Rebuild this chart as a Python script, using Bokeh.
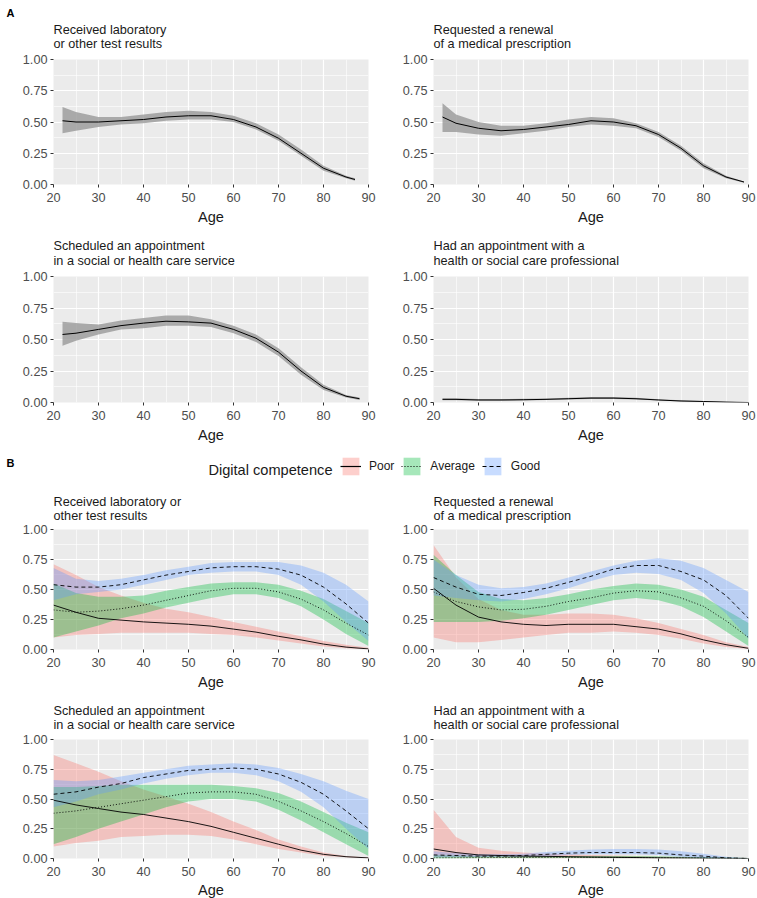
from bokeh.plotting import figure
from bokeh.layouts import column, row
from bokeh.models import Range1d, FixedTicker, NumeralTickFormatter, Label, Legend, LegendItem
from bokeh.embed import file_html
from bokeh.resources import INLINE

FONT = "Liberation Sans"

# ---------------- data ----------------
age_ticks = [20, 30, 40, 50, 60, 70, 80, 90]
age_minor = [25, 35, 45, 55, 65, 75, 85]
share_ticks = [0.0, 0.25, 0.5, 0.75, 1.0]
share_minor = [0.125, 0.375, 0.625, 0.875]
x_title = "Age"

titles = [
    ["Received laboratory", "or other test results"],
    ["Requested a renewal", "of a medical prescription"],
    ["Scheduled an appointment", "in a social or health care service"],
    ["Had an appointment with a", "health or social care professional"],
]
titles_b = [
    ["Received laboratory or", "other test results"],
    ["Requested a renewal", "of a medical prescription"],
    ["Scheduled an appointment", "in a social or health care service"],
    ["Had an appointment with a", "health or social care professional"],
]
groups = ["Poor", "Average", "Good"]
legend_title = "Digital competence"

# Panel A: whole sample
a1_age = [22, 25, 30, 35, 40, 45, 50, 55, 60, 65, 70, 75, 80, 85, 87]
a1_fit = [0.51, 0.50, 0.50, 0.51, 0.52, 0.54, 0.55, 0.55, 0.52, 0.46, 0.37, 0.25, 0.13, 0.06, 0.04]
a1_lo = [0.41, 0.43, 0.46, 0.48, 0.49, 0.51, 0.52, 0.52, 0.50, 0.44, 0.35, 0.23, 0.11, 0.05, 0.03]
a1_hi = [0.62, 0.58, 0.54, 0.54, 0.56, 0.58, 0.59, 0.58, 0.55, 0.49, 0.40, 0.28, 0.15, 0.07, 0.05]

a2_age = [22, 25, 30, 35, 40, 45, 50, 55, 60, 65, 70, 75, 80, 85, 89]
a2_fit = [0.54, 0.49, 0.45, 0.43, 0.44, 0.46, 0.48, 0.51, 0.50, 0.47, 0.40, 0.29, 0.15, 0.06, 0.02]
a2_lo = [0.42, 0.42, 0.40, 0.39, 0.41, 0.43, 0.46, 0.48, 0.47, 0.45, 0.38, 0.27, 0.13, 0.05, 0.015]
a2_hi = [0.65, 0.56, 0.50, 0.47, 0.47, 0.49, 0.52, 0.54, 0.53, 0.49, 0.42, 0.31, 0.17, 0.07, 0.025]

a3_age = [22, 25, 30, 35, 40, 45, 50, 55, 60, 65, 70, 75, 80, 85, 88]
a3_fit = [0.54, 0.55, 0.58, 0.61, 0.63, 0.645, 0.64, 0.63, 0.58, 0.51, 0.40, 0.25, 0.12, 0.05, 0.03]
a3_lo = [0.45, 0.49, 0.54, 0.58, 0.59, 0.61, 0.61, 0.60, 0.55, 0.48, 0.37, 0.22, 0.10, 0.04, 0.02]
a3_hi = [0.64, 0.63, 0.62, 0.65, 0.67, 0.69, 0.69, 0.66, 0.61, 0.54, 0.43, 0.28, 0.14, 0.06, 0.04]

a4_age = [22, 25, 30, 35, 40, 45, 50, 55, 60, 65, 70, 75, 80, 85, 90]
a4_fit = [0.025, 0.025, 0.02, 0.02, 0.022, 0.025, 0.03, 0.035, 0.035, 0.03, 0.02, 0.012, 0.008, 0.003, 0.0]
a4_lo = [0.018, 0.018, 0.014, 0.014, 0.016, 0.019, 0.023, 0.028, 0.028, 0.024, 0.015, 0.008, 0.005, 0.001, 0.0]
a4_hi = [0.033, 0.033, 0.027, 0.027, 0.029, 0.032, 0.038, 0.043, 0.043, 0.037, 0.026, 0.017, 0.011, 0.005, 0.001]

# Panel B: by digital competence
b_age = [20, 25, 30, 35, 40, 45, 50, 55, 60, 65, 70, 75, 80, 85, 90]

b1_poor_fit = [0.37, 0.31, 0.26, 0.245, 0.23, 0.22, 0.21, 0.195, 0.17, 0.145, 0.11, 0.08, 0.045, 0.02, 0.005]
b1_poor_lo = [0.10, 0.12, 0.13, 0.14, 0.14, 0.14, 0.14, 0.13, 0.12, 0.10, 0.075, 0.05, 0.025, 0.01, 0.0]
b1_poor_hi = [0.71, 0.62, 0.52, 0.45, 0.39, 0.34, 0.31, 0.27, 0.23, 0.19, 0.15, 0.11, 0.07, 0.04, 0.015]
b1_avg_fit = [0.33, 0.31, 0.32, 0.34, 0.37, 0.41, 0.45, 0.49, 0.51, 0.51, 0.48, 0.42, 0.33, 0.22, 0.12]
b1_avg_lo = [0.10, 0.15, 0.20, 0.26, 0.30, 0.35, 0.39, 0.43, 0.46, 0.46, 0.43, 0.36, 0.25, 0.13, 0.03]
b1_avg_hi = [0.55, 0.47, 0.44, 0.44, 0.45, 0.49, 0.52, 0.55, 0.56, 0.56, 0.54, 0.49, 0.42, 0.32, 0.22]
b1_good_fit = [0.54, 0.52, 0.52, 0.54, 0.58, 0.62, 0.65, 0.68, 0.69, 0.69, 0.67, 0.62, 0.52, 0.38, 0.22]
b1_good_lo = [0.41, 0.46, 0.48, 0.50, 0.54, 0.58, 0.62, 0.64, 0.65, 0.65, 0.62, 0.54, 0.40, 0.23, 0.07]
b1_good_hi = [0.68, 0.59, 0.57, 0.59, 0.62, 0.66, 0.69, 0.72, 0.73, 0.73, 0.73, 0.70, 0.64, 0.54, 0.40]

b2_poor_fit = [0.51, 0.37, 0.27, 0.23, 0.21, 0.20, 0.21, 0.21, 0.21, 0.19, 0.17, 0.13, 0.08, 0.04, 0.01]
b2_poor_lo = [0.10, 0.06, 0.06, 0.08, 0.10, 0.12, 0.14, 0.14, 0.15, 0.14, 0.12, 0.09, 0.05, 0.02, 0.005]
b2_poor_hi = [0.87, 0.60, 0.42, 0.33, 0.29, 0.29, 0.30, 0.30, 0.29, 0.26, 0.22, 0.17, 0.12, 0.06, 0.02]
b2_avg_fit = [0.48, 0.40, 0.355, 0.33, 0.335, 0.36, 0.40, 0.43, 0.47, 0.49, 0.48, 0.43, 0.36, 0.24, 0.10]
b2_avg_lo = [0.23, 0.23, 0.23, 0.24, 0.26, 0.29, 0.33, 0.37, 0.41, 0.43, 0.41, 0.36, 0.27, 0.15, 0.03]
b2_avg_hi = [0.79, 0.62, 0.48, 0.42, 0.41, 0.43, 0.46, 0.50, 0.53, 0.55, 0.54, 0.50, 0.44, 0.33, 0.22]
b2_good_fit = [0.60, 0.52, 0.46, 0.45, 0.475, 0.51, 0.56, 0.61, 0.67, 0.70, 0.70, 0.65, 0.58, 0.45, 0.26]
b2_good_lo = [0.45, 0.43, 0.41, 0.40, 0.42, 0.46, 0.51, 0.57, 0.62, 0.64, 0.63, 0.58, 0.47, 0.30, 0.09]
b2_good_hi = [0.75, 0.62, 0.54, 0.51, 0.52, 0.55, 0.60, 0.65, 0.70, 0.74, 0.76, 0.74, 0.68, 0.58, 0.48]

b3_poor_fit = [0.49, 0.45, 0.42, 0.39, 0.37, 0.34, 0.31, 0.27, 0.22, 0.17, 0.12, 0.07, 0.035, 0.015, 0.005]
b3_poor_lo = [0.10, 0.13, 0.15, 0.18, 0.19, 0.20, 0.20, 0.19, 0.16, 0.12, 0.08, 0.05, 0.02, 0.01, 0.002]
b3_poor_hi = [0.87, 0.80, 0.73, 0.65, 0.58, 0.52, 0.46, 0.39, 0.31, 0.24, 0.16, 0.10, 0.05, 0.02, 0.008]
b3_avg_fit = [0.38, 0.40, 0.43, 0.46, 0.49, 0.52, 0.55, 0.56, 0.56, 0.54, 0.48, 0.40, 0.31, 0.21, 0.10]
b3_avg_lo = [0.12, 0.18, 0.25, 0.31, 0.37, 0.43, 0.48, 0.50, 0.50, 0.48, 0.41, 0.32, 0.22, 0.12, 0.02]
b3_avg_hi = [0.60, 0.60, 0.61, 0.62, 0.62, 0.62, 0.62, 0.62, 0.61, 0.59, 0.55, 0.48, 0.39, 0.30, 0.22]
b3_good_fit = [0.54, 0.56, 0.60, 0.63, 0.68, 0.71, 0.74, 0.75, 0.76, 0.75, 0.71, 0.64, 0.54, 0.40, 0.25]
b3_good_lo = [0.43, 0.48, 0.54, 0.58, 0.63, 0.67, 0.70, 0.72, 0.72, 0.70, 0.65, 0.56, 0.43, 0.25, 0.08]
b3_good_hi = [0.66, 0.65, 0.66, 0.69, 0.72, 0.75, 0.78, 0.79, 0.80, 0.79, 0.76, 0.71, 0.65, 0.57, 0.50]

b4_poor_fit = [0.08, 0.05, 0.03, 0.025, 0.02, 0.018, 0.015, 0.012, 0.01, 0.008, 0.005, 0.004, 0.003, 0.001, 0.0]
b4_poor_lo = [0.01, 0.008, 0.006, 0.005, 0.004, 0.003, 0.003, 0.002, 0.002, 0.001, 0.001, 0.0, 0.0, 0.0, 0.0]
b4_poor_hi = [0.41, 0.18, 0.09, 0.065, 0.05, 0.04, 0.035, 0.03, 0.025, 0.02, 0.015, 0.01, 0.005, 0.002, 0.0]
b4_avg_fit = [0.005, 0.006, 0.007, 0.008, 0.009, 0.01, 0.01, 0.01, 0.009, 0.008, 0.007, 0.006, 0.005, 0.003, 0.001]
b4_avg_lo = [0.001, 0.001, 0.002, 0.002, 0.003, 0.003, 0.004, 0.004, 0.003, 0.003, 0.002, 0.002, 0.001, 0.0, 0.0]
b4_avg_hi = [0.03, 0.025, 0.02, 0.02, 0.02, 0.02, 0.02, 0.02, 0.02, 0.02, 0.018, 0.015, 0.012, 0.008, 0.004]
b4_good_fit = [0.03, 0.025, 0.02, 0.02, 0.025, 0.035, 0.045, 0.05, 0.05, 0.05, 0.045, 0.03, 0.02, 0.005, 0.0]
b4_good_lo = [0.01, 0.012, 0.012, 0.013, 0.015, 0.02, 0.03, 0.035, 0.035, 0.035, 0.03, 0.015, 0.005, 0.002, 0.0]
b4_good_hi = [0.06, 0.045, 0.035, 0.035, 0.04, 0.055, 0.065, 0.075, 0.08, 0.08, 0.075, 0.06, 0.04, 0.015, 0.0]

# ---------------- styling ----------------
FILL = {"Poor": "#F8766D", "Average": "#00BA38", "Good": "#619CFF"}
DASH = {"Poor": "solid", "Average": "1 2", "Good": "4 3"}
PANEL_BG = "#EBEBEB"
FRAME_W = 315
LEFT_B = 53
LEFT_W = 380            # left panel figure width
RIGHT_W = 376           # right panel figure width
STRIP_W = LEFT_W + RIGHT_W
TITLE_SIZE = "12.7px"
XLAB_SIZE = "14.6px"
TXT = "#1A1A1A"


def add_label(p, x, y, text, size, bold=False, align="left"):
    p.add_layout(Label(x=x, y=y, x_units="screen", y_units="screen", text=text,
                       text_font=FONT, text_font_size=size,
                       text_font_style="bold" if bold else "normal",
                       text_color="black" if bold else TXT,
                       text_align=align, text_baseline="middle"))


def make_strip(height):
    s = figure(width=STRIP_W, height=height, min_border=0,
               x_range=Range1d(0, 1), y_range=Range1d(0, 1),
               x_axis_location=None, y_axis_location=None,
               output_backend="svg", toolbar_location=None, title=None)
    s.outline_line_color = None
    s.background_fill_color = "white"
    s.border_fill_color = "white"
    s.xgrid.visible = False
    s.ygrid.visible = False
    return s


def add_titles(s, pair, y1, y2):
    for col, lines in enumerate(pair):
        x0 = LEFT_B if col == 0 else LEFT_W + LEFT_B
        add_label(s, x0, y1, lines[0], TITLE_SIZE)
        add_label(s, x0, y2, lines[1], TITLE_SIZE)


def make_panel(frame_h, bottom_border, right, with_xlabel=True):
    p = figure(frame_width=FRAME_W, frame_height=frame_h,
               min_border_left=LEFT_B,
               min_border_right=(RIGHT_W - LEFT_B - FRAME_W) if right else (LEFT_W - LEFT_B - FRAME_W),
               min_border_top=6, min_border_bottom=bottom_border,
               x_range=Range1d(20, 90), y_range=Range1d(0, 1),
               output_backend="svg", toolbar_location=None, title=None)
    p.background_fill_color = PANEL_BG
    p.border_fill_color = "white"
    p.outline_line_color = None
    p.xaxis.ticker = FixedTicker(ticks=age_ticks, minor_ticks=age_minor)
    p.yaxis.ticker = FixedTicker(ticks=share_ticks, minor_ticks=share_minor)
    p.yaxis.formatter = NumeralTickFormatter(format="0.00")
    for ax in (p.xaxis, p.yaxis):
        ax.axis_line_color = None
        ax.major_tick_line_color = "#333333"
        ax.major_tick_out = 3
        ax.major_tick_in = 0
        ax.minor_tick_out = 0
        ax.minor_tick_in = 0
        ax.major_label_text_font = FONT
        ax.major_label_text_font_size = "12.7px"
        ax.major_label_text_color = "#4D4D4D"
    p.xaxis.major_label_standoff = 5
    p.yaxis.major_label_standoff = 3
    if with_xlabel:
        p.xaxis.axis_label = x_title
        p.xaxis.axis_label_text_font = FONT
        p.xaxis.axis_label_text_font_size = XLAB_SIZE
        p.xaxis.axis_label_text_font_style = "normal"
        p.xaxis.axis_label_text_color = TXT
        p.xaxis.axis_label_standoff = 4
    for g in (p.xgrid, p.ygrid):
        g.grid_line_color = "white"
        g.grid_line_width = 1.2
        g.minor_grid_line_color = "white"
        g.minor_grid_line_width = 0.6
    return p


def panel_a(right, frame_h, bottom, age, fit, lo, hi):
    p = make_panel(frame_h, bottom, right)
    p.varea(x=age, y1=lo, y2=hi, fill_color="#999999", fill_alpha=0.8)
    p.line(x=age, y=fit, line_color="black", line_width=1)
    return p


def panel_b(right, frame_h, bottom, series, with_xlabel=True):
    p = make_panel(frame_h, bottom, right, with_xlabel)
    for g in groups:
        fit, lo, hi = series[g]
        p.varea(x=b_age, y1=lo, y2=hi, fill_color=FILL[g], fill_alpha=0.35)
    for g in groups:
        fit, lo, hi = series[g]
        p.line(x=b_age, y=fit, line_color="black", line_width=0.9, line_dash=DASH[g])
    return p


# ---- section A ----
t1 = make_strip(53)
add_label(t1, 6, 41, "A", "11px", bold=True)
add_titles(t1, titles[0:2], 24, 10)
pa1 = panel_a(False, 125, 50, a1_age, a1_fit, a1_lo, a1_hi)
pa2 = panel_a(True, 125, 50, a2_age, a2_fit, a2_lo, a2_hi)

t2 = make_strip(36)
add_titles(t2, titles[2:4], 25, 10)
pa3 = panel_a(False, 126, 50, a3_age, a3_fit, a3_lo, a3_hi)
pa4 = panel_a(True, 126, 50, a4_age, a4_fit, a4_lo, a4_hi)

# ---- section B: legend + titles strip ----
t3 = make_strip(71)
items = []
for g in groups:
    band = t3.varea(x=[5, 6], y1=[5, 5], y2=[6, 6], fill_color=FILL[g], fill_alpha=0.35)
    ln = t3.line(x=[5, 6], y=[5, 5], line_color="black", line_width=1.2, line_dash=DASH[g])
    items.append(LegendItem(label=g, renderers=[band, ln]))
leg = Legend(items=items, orientation="horizontal", location=(340, 46),
             glyph_width=21, glyph_height=22, label_standoff=8, spacing=7,
             padding=0, margin=0, border_line_color=None, background_fill_alpha=0,
             label_text_font=FONT, label_text_font_size="12px", label_text_color=TXT)
t3.add_layout(leg, "center")
add_label(t3, 332, 54, legend_title, XLAB_SIZE, align="right")
add_label(t3, 6, 61, "B", "11px", bold=True)
add_titles(t3, titles_b[0:2], 22, 8)

pb1 = panel_b(False, 120, 50, {"Poor": (b1_poor_fit, b1_poor_lo, b1_poor_hi),
                               "Average": (b1_avg_fit, b1_avg_lo, b1_avg_hi),
                               "Good": (b1_good_fit, b1_good_lo, b1_good_hi)})
pb2 = panel_b(True, 120, 50, {"Poor": (b2_poor_fit, b2_poor_lo, b2_poor_hi),
                              "Average": (b2_avg_fit, b2_avg_lo, b2_avg_hi),
                              "Good": (b2_good_fit, b2_good_lo, b2_good_hi)})

t4 = make_strip(34)
add_titles(t4, titles_b[2:4], 23, 9)
pb3 = panel_b(False, 119, 24, {"Poor": (b3_poor_fit, b3_poor_lo, b3_poor_hi),
                               "Average": (b3_avg_fit, b3_avg_lo, b3_avg_hi),
                               "Good": (b3_good_fit, b3_good_lo, b3_good_hi)}, with_xlabel=False)
pb4 = panel_b(True, 119, 24, {"Poor": (b4_poor_fit, b4_poor_lo, b4_poor_hi),
                              "Average": (b4_avg_fit, b4_avg_lo, b4_avg_hi),
                              "Good": (b4_good_fit, b4_good_lo, b4_good_hi)}, with_xlabel=False)

# x-axis title strip for the bottom row
t5 = make_strip(16)
add_label(t5, LEFT_B + FRAME_W / 2, 9, x_title, XLAB_SIZE, align="center")
add_label(t5, LEFT_W + LEFT_B + FRAME_W / 2, 9, x_title, XLAB_SIZE, align="center")

layout = column(t1, row(pa1, pa2), t2, row(pa3, pa4), t3, row(pb1, pb2), t4, row(pb3, pb4), t5)

open("out.html", "w").write(file_html(layout, INLINE))
